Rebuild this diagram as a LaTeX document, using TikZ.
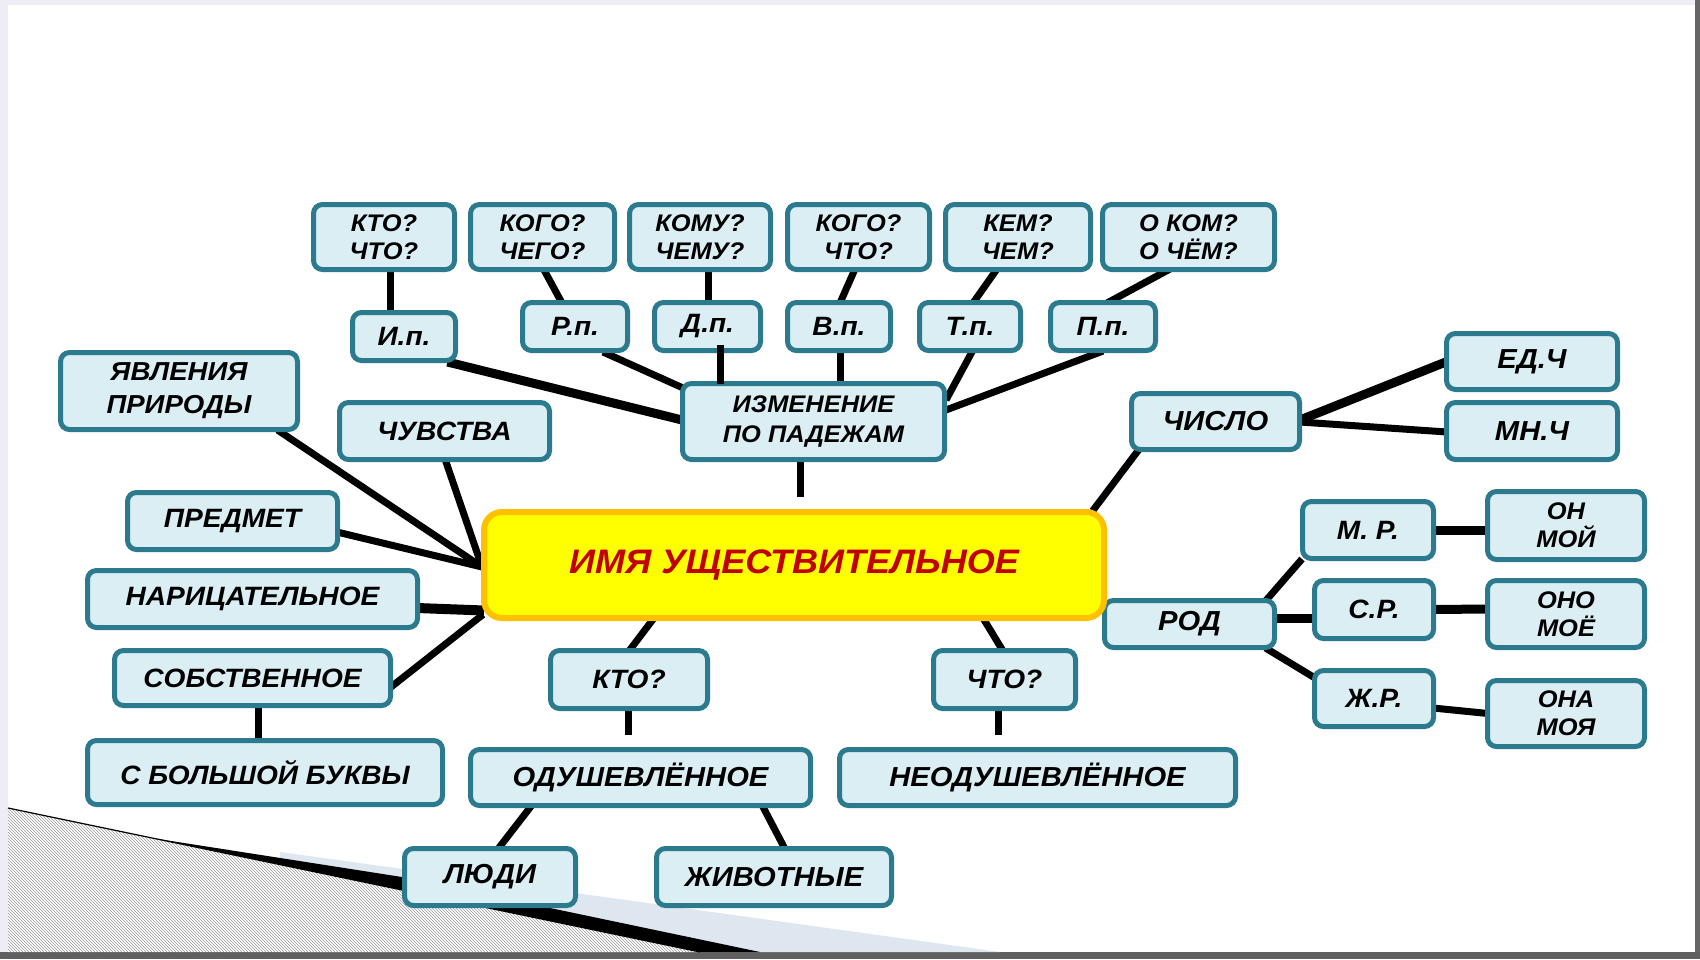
\documentclass[tikz,border=0pt]{standalone}
\usepackage{fontspec}
\setmainfont{Liberation Sans}[FakeStretch=1.06]
\usetikzlibrary{patterns,calc}
\pgfdeclarelayer{deco}
\pgfdeclarelayer{bg}
\pgfsetlayers{deco,bg,main}
\definecolor{boxfill}{RGB}{218,238,243}
\definecolor{boxline}{RGB}{44,122,142}
\definecolor{ctrfill}{RGB}{255,255,0}
\definecolor{ctrline}{RGB}{255,192,0}
\definecolor{ctrtext}{RGB}{192,0,0}
\definecolor{framebg}{RGB}{238,237,245}
\definecolor{bandcol}{RGB}{222,231,239}
\newcommand{\mkbox}[7][]{%
  \pgfmathsetmacro{\mkcx}{(#3+#5)/2}%
  \pgfmathsetmacro{\mkcy}{(#4+#6)/2}%
  \pgfmathsetmacro{\mkw}{#5-#3-5}%
  \pgfmathsetmacro{\mkh}{#6-#4-5}%
  \node[bx,minimum width=\mkw pt,minimum height=\mkh pt,#1] (#2) at (\mkcx,\mkcy) {#7};}
\begin{document}
\begin{tikzpicture}[x=1pt,y=-1pt,
  bx/.style={draw=boxline,fill=boxfill,line width=5pt,rounded corners=9pt,inner sep=0pt,align=center,
    font=\fontsize{26.5}{29}\selectfont\bfseries\itshape},
  qf/.style={font=\fontsize{24}{28}\selectfont\bfseries\itshape},
  izf/.style={font=\fontsize{24}{29.5}\selectfont\bfseries\itshape},
  yf/.style={font=\fontsize{26}{33}\selectfont\bfseries\itshape},
  bigf/.style={font=\fontsize{27.5}{30}\selectfont\bfseries\itshape},
  ln/.style={line width=7pt,black},
  lnthick/.style={line width=9pt,black}]
\useasboundingbox (0,0) rectangle (1700,959);
% ---------- background decoration ----------
\begin{pgfonlayer}{deco}
\fill[framebg] (0,0) rectangle (1700,959);
\fill[white] (8,5) rectangle (1695,952);
\fill[gray!80!black] (1695,0) rectangle (1700,959);
\fill[gray!75!black] (0,952) rectangle (1700,959);
\fill[bandcol] (280,852) -- (1000,952) -- (280,952) -- cycle;
\fill[black] (120,833) -- (402,877) -- (574,913) -- (760,952) -- (8,952) -- (8,808) -- cycle;
\fill[white] (8,808) -- (700,952) -- (8,952) -- cycle;
\fill[pattern=north west lines,pattern color=gray!80] (8,808) -- (700,952) -- (8,952) -- cycle;
\draw[black,line width=1.2pt] (8,808) -- (700,952);
\end{pgfonlayer}
% ---------- nodes ----------
\mkbox[qf]{q1}{311}{202}{457}{272}{КТО?\\ЧТО?}
\mkbox[qf]{q2}{468}{202}{617}{272}{КОГО?\\ЧЕГО?}
\mkbox[qf]{q3}{627}{202}{773}{272}{КОМУ?\\ЧЕМУ?}
\mkbox[qf]{q4}{785}{202}{932}{272}{КОГО?\\ЧТО?}
\mkbox[qf]{q5}{943}{202}{1093}{272}{КЕМ?\\ЧЕМ?}
\mkbox[qf]{q6}{1100}{202}{1277}{272}{О КОМ?\\О ЧЁМ?}
\mkbox{c1}{350}{310}{458}{363}{И.п.}
\mkbox{c2}{520}{300}{630}{353}{Р.п.}
\mkbox{c3}{652}{300}{763}{353}{Д.п.}
\mkbox{c4}{785}{300}{893}{353}{В.п.}
\mkbox{c5}{917}{300}{1023}{353}{Т.п.}
\mkbox{c6}{1048}{300}{1158}{353}{П.п.}
\mkbox[izf]{izm}{680}{381}{947}{462}{ИЗМЕНЕНИЕ\\ПО ПАДЕЖАМ}
\mkbox[yf]{yav}{58}{350}{300}{432}{ЯВЛЕНИЯ\\ПРИРОДЫ}
\mkbox{chu}{337}{400}{552}{462}{ЧУВСТВА}
\mkbox{pred}{125}{490}{340}{552}{ПРЕДМЕТ}
\mkbox{nar}{85}{568}{420}{630}{НАРИЦАТЕЛЬНОЕ}
\mkbox{sob}{112}{648}{393}{708}{СОБСТВЕННОЕ}
\mkbox{sbol}{85}{738}{445}{807}{С БОЛЬШОЙ БУКВЫ}
\mkbox{kto}{548}{648}{710}{711}{КТО?}
\mkbox{chto}{931}{648}{1078}{711}{ЧТО?}
\mkbox[bigf]{odu}{468}{747}{813}{808}{ОДУШЕВЛЁННОЕ}
\mkbox[bigf]{neod}{837}{747}{1238}{808}{НЕОДУШЕВЛЁННОЕ}
\mkbox[bigf]{lyu}{402}{846}{578}{908}{ЛЮДИ}
\mkbox[bigf]{zhi}{654}{846}{894}{908}{ЖИВОТНЫЕ}
\mkbox[bigf]{chis}{1129}{391}{1302}{452}{ЧИСЛО}
\mkbox[bigf]{ed}{1444}{331}{1620}{392}{ЕД.Ч}
\mkbox[bigf]{mn}{1444}{400}{1620}{462}{МН.Ч}
\mkbox[bigf]{rod}{1102}{598}{1277}{650}{РОД}
\mkbox{mr}{1300}{499}{1436}{561}{М. Р.}
\mkbox{sr}{1312}{578}{1436}{641}{С.Р.}
\mkbox{zr}{1312}{668}{1436}{729}{Ж.Р.}
\mkbox[qf]{on}{1485}{489}{1647}{562}{ОН\\МОЙ}
\mkbox[qf]{ono}{1485}{578}{1647}{650}{ОНО\\МОЁ}
\mkbox[qf]{ona}{1485}{678}{1647}{749}{ОНА\\МОЯ}
\node[draw=ctrline,fill=ctrfill,line width=6pt,rounded corners=18pt,inner sep=0pt,
  minimum width=620pt,minimum height=106pt,text=ctrtext,
  font=\fontsize{34}{36}\selectfont\bfseries\itshape] (main) at (794,565) {ИМЯ УЩЕСТВИТЕЛЬНОЕ};
% ---------- connectors ----------
\begin{pgfonlayer}{bg}
\draw[ln] ($(q1.south)+(6,-3)$) -- ($(c1.north)+(-14,3)$);
\draw[ln] ($(q2.south)+(1,-3)$) -- ($(c2.north)+(-13,3)$);
\draw[ln] ($(q3.south)+(8,-3)$) -- ($(c3.north)+(0.5,3)$);
\draw[ln] ($(q4.south)+(-3.5,-3)$) -- ($(c4.north)+(1,3)$);
\draw[ln] ($(q5.south)+(-21,-3)$) -- ($(c5.north)+(3,3)$);
\draw[ln] ($(q6.south)+(-18.5,-3)$) -- ($(c6.north)+(4,3)$);
\draw[lnthick] ($(c1.south east)+(-10.5,-1)$) -- ($(izm.west)+(2,-1.5)$);
\draw[ln] ($(c2.south)+(28,-1)$) -- ($(izm.north west)+(2,6.5)$);
\draw[ln] ($(c4.south)+(1,-3)$) -- ($(izm.north)+(26.5,3)$);
\draw[ln] ($(c5.south)+(3,-3)$) -- ($(izm.east)+(-1,-21.5)$);
\draw[ln] ($(c6.south)+(0,-2)$) -- ($(izm.east)+(-1,-11.5)$);
\draw[ln] ($(izm.south)+(-13.5,-3)$) -- ($(main.north)+(6,-12)$);
\draw[ln] ($(chis.south west)+(9.5,-2)$) -- ($(main.north east)+(-14.5,2)$);
\draw[lnthick] ($(chis.east)+(-2,-1.5)$) -- ($(ed.west)+(3,0)$);
\draw[ln] ($(chis.east)+(-2,0.5)$) -- ($(mn.west)+(3,1)$);
\draw[ln] ($(rod.north east)+(-11.5,3)$) -- ($(mr.south west)+(2,-2)$);
\draw[lnthick] ($(rod.east)+(-3,-6)$) -- ($(sr.west)+(3,8.5)$);
\draw[ln] ($(rod.south east)+(-11.5,-2)$) -- ($(zr.west)+(3,-20.5)$);
\draw[lnthick] ($(mr.east)+(-3,0)$) -- ($(on.west)+(3,4.5)$);
\draw[lnthick] ($(sr.east)+(-3,0)$) -- ($(ono.west)+(3,-5)$);
\draw[ln] ($(zr.east)+(-3,9.5)$) -- ($(ona.west)+(3,0)$);
\draw[ln] ($(yav.south east)+(-22.5,-2)$) -- ($(main.west)+(1,2)$);
\draw[ln] ($(chu.south)+(0.5,-3)$) -- ($(main.west)+(1,2)$);
\draw[ln] ($(pred.east)+(-3,11)$) -- ($(main.west)+(1,2)$);
\draw[line width=10pt] ($(nar.east)+(-3,9)$) -- ($(main.south west)+(3,-10.5)$);
\draw[ln] ($(sob.east)+(-2,9)$) -- ($(main.south west)+(2,-6.5)$);
\draw[ln] ($(sob.south)+(5.5,-3)$) -- ($(sbol.north)+(-7,3)$);
\draw[ln] ($(main.south)+(-140,-3)$) -- ($(kto.north)+(0,3)$);
\draw[ln] ($(main.south)+(189,-3)$) -- ($(chto.north)+(-1.5,3)$);
\draw[ln] ($(kto.south)+(-1,-3)$) -- ($(odu.north)+(-12.5,-12)$);
\draw[ln] ($(chto.south)+(-6.5,-3)$) -- ($(neod.north)+(-39.5,-12)$);
\draw[ln] ($(odu.south)+(-108.5,-3)$) -- ($(lyu.north)+(8,3)$);
\draw[ln] ($(odu.south)+(121.5,-3)$) -- ($(zhi.north)+(11,3)$);
\end{pgfonlayer}
% line that runs over the D.p. box
\draw[ln] ($(c3.south)+(12.5,-8)$) -- ($(izm.north)+(-93.5,3)$);
\end{tikzpicture}
\end{document}
